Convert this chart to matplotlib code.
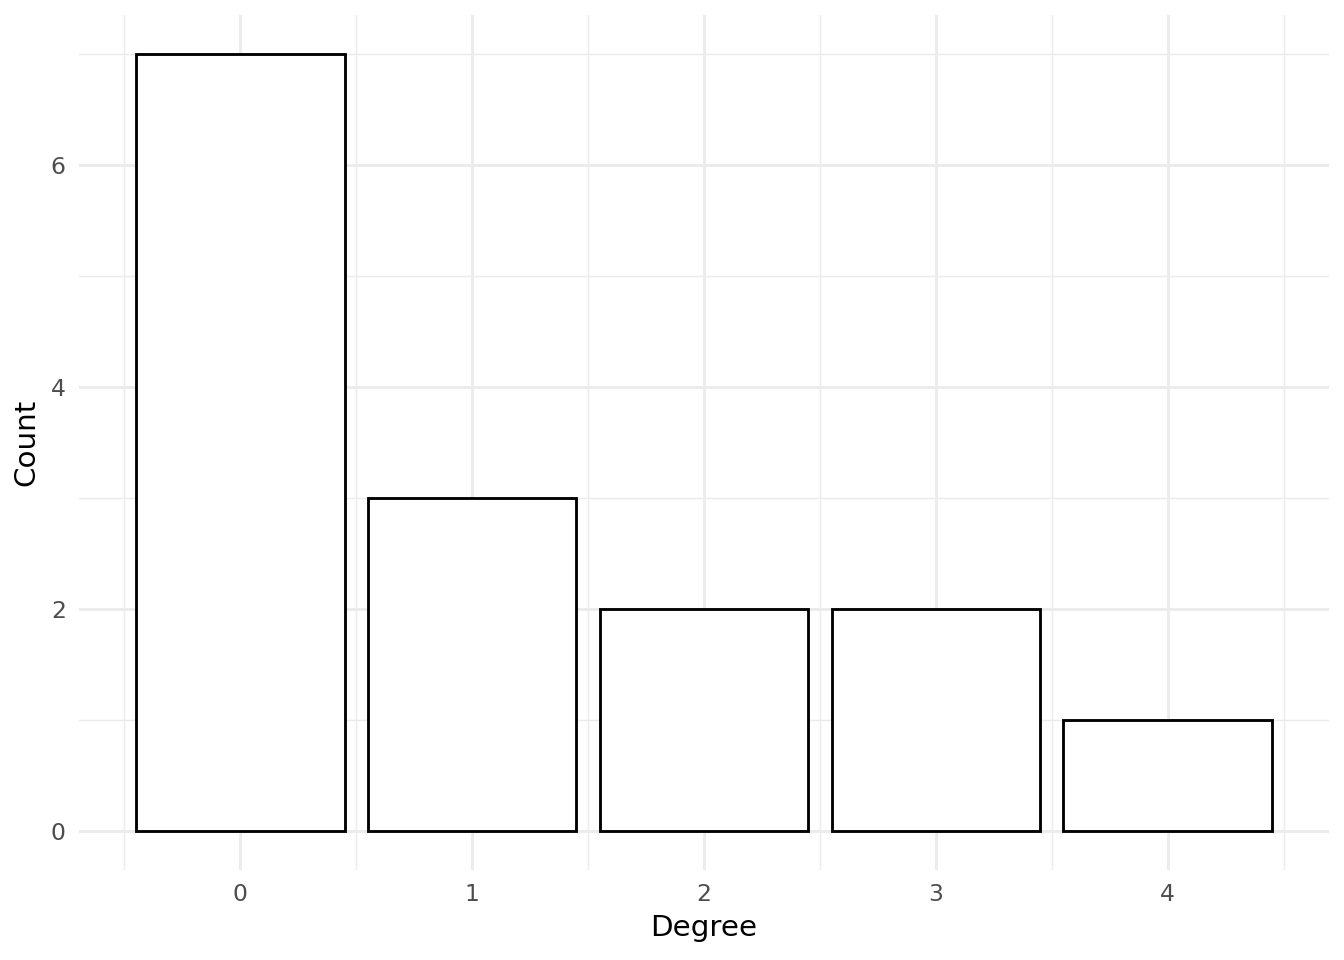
import matplotlib
matplotlib.use("Agg")
import matplotlib.pyplot as plt
from matplotlib.ticker import MultipleLocator

# degree distribution
degrees = [0, 1, 2, 3, 4]
counts = [7, 3, 2, 2, 1]

plt.rcParams['font.family'] = ['DejaVu Sans']

fig = plt.figure(figsize=(7, 5), dpi=192)
ax = fig.add_axes([79 / 1344, (960 - 870) / 960, (1329 - 79) / 1344, (870 - 15) / 960])

ax.bar(degrees, counts, width=0.9, facecolor='white', edgecolor='black', linewidth=1.07, zorder=3)

ax.set_xlim(-0.695, 4.695)
ax.set_ylim(-0.35, 7.35)
ax.set_xticks(degrees)
ax.set_xticklabels([str(d) for d in degrees])
ax.yaxis.set_major_locator(MultipleLocator(2))
ax.yaxis.set_minor_locator(MultipleLocator(1))
ax.set_xticks([d + 0.5 for d in [-1] + degrees], minor=True)

ax.grid(True, which='major', color='#EBEBEB', linewidth=1.07, zorder=0)
ax.grid(True, which='minor', color='#EBEBEB', linewidth=0.53, zorder=0)
ax.set_axisbelow(True)

for s in ax.spines.values():
    s.set_visible(False)
ax.tick_params(which='both', length=0, labelsize=8.8, labelcolor='#4D4D4D', pad=4.95)

ax.set_xlabel('Degree', fontsize=11, labelpad=3)
ax.set_ylabel('Count', fontsize=11, labelpad=4)

fig.savefig('out.png', dpi=192, facecolor='white')
